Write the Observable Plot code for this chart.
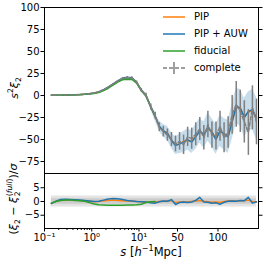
<!DOCTYPE html>
<html><head><meta charset="utf-8">
<script src="https://cdn.jsdelivr.net/npm/d3@7"></script>
<script src="https://cdn.jsdelivr.net/npm/@observablehq/plot@0.6"></script>
<style>
html,body{margin:0;padding:0;background:#fff;}
#chart{position:relative;width:266px;height:266px;font-family:"DejaVu Sans",sans-serif;color:#000;overflow:hidden;}
#chart svg{display:block;}
.lab{position:absolute;white-space:nowrap;font-size:11px;line-height:1;}
.rot{transform:translate(-50%,-50%) rotate(-90deg);}
.lab sup,.lab sub{font-size:70%;line-height:0;}
.stk{display:inline-flex;flex-direction:column;vertical-align:middle;font-size:70%;line-height:1;margin-left:0.5px;}
#legend{position:absolute;left:163px;top:8px;font-size:10px;line-height:1;}
#legend .row{display:flex;align-items:center;height:17px;}
#legend svg{display:inline-block;margin-right:9px;}
</style></head><body><div id="chart"></div>
<script>
// separation s [h^-1 Mpc]: log-binned part, then linear-binned part
const s = [0.14, 0.18, 0.22, 0.28, 0.35, 0.45, 0.56, 0.71, 0.89, 1.12, 1.41, 1.78, 2.24, 2.82, 3.55, 4.47, 5.62, 7.08, 8.91, 11.2, 14.1, 17.8,
  22.5, 27.5, 32.5, 37.5, 42.5, 47.5, 52.5, 57.5, 62.5, 67.5, 72.5, 77.5, 82.5, 87.5, 92.5, 97.5, 102.5, 107.5, 112.5, 117.5, 122.5, 127.5, 132.5, 137.5, 142.5, 147.5];

// top panel: s^2 xi_2
const pipAuw = [0.2, 0.3, 0.4, 0.5, 0.7, 0.9, 1.1, 1.5, 2.0, 2.8, 4.0, 6.5, 9.5, 13, 16.5, 19.5, 20.5, 20, 15, 6, 0, -13,
  -24, -35, -40, -43, -51, -57, -55, -53, -50, -53, -47, -40, -45, -36, -42, -50, -40, -44, -47, -30, -12, -14, -25, -18, -16, -26];
const pip = [0.2, 0.3, 0.4, 0.5, 0.7, 0.9, 1.1, 1.5, 2.0, 2.8, 4.0, 6.4, 9.3, 12.8, 16.3, 19.3, 20.3, 19.8, 15, 6, 0, -13,
  -24, -35, -41, -42, -51, -56, -55, -52, -51, -52, -46, -41, -44, -37, -41, -49, -41, -43, -46, -29, -13, -15, -24, -19, -17, -25];
const fiducial = [0.2, 0.3, 0.4, 0.5, 0.6, 0.8, 1.0, 1.3, 1.7, 2.3, 3.3, 5.5, 8.3, 11.8, 15.3, 17.8, 18.5, 18.3, 14, 5.5, -0.5, -13, -24];
const complete = [0.2, 0.3, 0.4, 0.5, 0.7, 0.9, 1.1, 1.5, 2.0, 2.8, 4.0, 6.5, 9.5, 13, 16.5, 19.5, 20.5, 20, 15, 6, 0, -13,
  -23, -36, -41, -45, -50, -55, -52, -56, -47, -49, -44, -38, -48, -33, -45, -46, -35, -48, -42, -22, -10, -18, -30, -42, -14, -30];
const sigmaAuw = [0.1, 0.1, 0.1, 0.1, 0.1, 0.1, 0.1, 0.2, 0.2, 0.2, 0.3, 0.3, 0.4, 0.5, 0.6, 0.8, 1, 1.2, 1.5, 2, 2.5, 3.5,
  5, 6, 7, 8, 9, 10, 11, 12, 12, 13, 14, 14, 15, 16, 16, 17, 18, 18, 19, 20, 20, 21, 22, 22, 23, 24];
const errComplete = [0.1, 0.1, 0.1, 0.1, 0.1, 0.1, 0.1, 0.2, 0.2, 0.2, 0.3, 0.3, 0.4, 0.5, 0.6, 0.8, 1, 1.2, 1.5, 2, 2.5, 3.5,
  4, 5, 6, 7, 8, 9, 10, 11, 11, 12, 13, 13, 14, 15, 15, 16, 17, 17, 18, 22, 26, 24, 24, 26, 25, 26];

// bottom panel: (xi_2 - xi_2^full)/sigma
const resPipAuw = [-0.8, 0.2, 0.7, 0.8, 0.7, 0.6, 0.5, 0.4, 0.2, 0.0, 0.1, 0.5, 0.9, 1.1, 1.0, 0.7, 0.4, 0.2, 0.0, -0.1, -0.2, -0.5,
  -0.6, -0.1, 0.2, 0.1, 0.7, -1.1, -0.4, -0.2, -0.4, -0.2, 0.4, 1.5, -0.2, -0.3, -0.6, -0.5, -1.0, -0.3, 0.1, 0.2, 0.1, 0.4, 0.3, 1.5, -0.6, -0.1];
const resPip = [-0.6, 0.1, 0.5, 0.6, 0.5, 0.5, 0.4, 0.3, 0.1, -0.1, 0.0, 0.3, 0.4, 0.5, 0.4, 0.3, 0.2, 0.1, 0.0, -0.1, -0.2, -0.3,
  -0.3, 0.0, 0.1, 0.2, 0.3, -0.4, -0.2, -0.1, -0.2, 0.0, 0.2, 0.4, 0.1, -0.1, -0.3, -0.2, -0.4, 0.0, 0.2, 0.3, 0.2, 0.3, 0.3, 0.5, 0.0, -0.3];
const resFiducial = [-0.6, 0.1, 0.4, 0.5, 0.5, 0.4, 0.3, 0.1, -0.4, -0.9, -1.2, -1.3, -1.4, -1.4, -1.4, -1.4, -1.3, -1.3, -1.2, -1.0, -0.4, -0.1, 0.0];
const bandOuter = 2, bandInner = 1;

// ticks
const xMajor = [0.1, 1, 10, 50, 100];
const xMajorLabels = ["10\u207B\u00B9", "10\u2070", "10\u00B9", "50", "100"];
const xMinor = [0.2, 0.3, 0.4, 0.5, 0.6, 0.7, 0.8, 0.9, 2, 3, 4, 5, 6, 7, 8, 9, 20];
const yTopTicks = [-75, -50, -25, 0, 25, 50, 75, 100];
const yBotTicks = [-5, 0, 5];

// hybrid axis: logarithmic up to 20, linear beyond
const BREAK = 20, K = 0.01714;
const u = v => v <= BREAK ? Math.log10(v) : Math.log10(BREAK) + (v - BREAK) * K;
const xDomain = [u(0.1), u(150)];
const fmt = d => d < 0 ? "\u2212" + (-d) : String(d);
const majorFmt = d => { const i = xMajor.findIndex(v => Math.abs(u(v) - d) < 1e-9); return i < 0 ? "" : xMajorLabels[i]; };

const rows = s.map((v, i) => ({s: v, pip: pip[i], auw: pipAuw[i], comp: complete[i], sig: sigmaAuw[i], err: errComplete[i],
  rpip: resPip[i], rauw: resPipAuw[i]}));
const fidRows = fiducial.map((v, i) => ({s: s[i], y: v, r: resFiducial[i]}));
const X = d => u(d.s);

const plotStyle = {fontFamily: "DejaVu Sans, sans-serif", fontSize: "10px", color: "#000", background: "transparent", overflow: "visible"};
const C = {orange: "#ff7f0e", blue: "#1f77b4", green: "#2ca02c", gray: "#7f7f7f"};

const topPlot = Plot.plot({
  width: 266, height: 173, marginLeft: 44, marginRight: 8, marginTop: 7, marginBottom: 0, style: plotStyle,
  x: {type: "linear", domain: xDomain, axis: null},
  y: {domain: [-88.6, 100]},
  marks: [
    Plot.areaY(rows, {x: X, y1: d => d.auw - d.sig, y2: d => d.auw + d.sig, fill: C.blue, fillOpacity: 0.25}),
    Plot.line(rows, {x: X, y: "pip", stroke: C.orange, strokeWidth: 1.5}),
    Plot.line(rows, {x: X, y: "auw", stroke: C.blue, strokeWidth: 1.5}),
    Plot.line(fidRows, {x: X, y: "y", stroke: C.green, strokeWidth: 1.5}),
    Plot.ruleX(rows, {x: X, y1: d => d.comp - d.err, y2: d => d.comp + d.err, stroke: C.gray, strokeWidth: 1.5}),
    Plot.line(rows, {x: X, y: "comp", stroke: C.gray, strokeWidth: 1.5, strokeDasharray: "4,2"}),
    Plot.axisY({ticks: yTopTicks, tickSize: 3.5, tickPadding: 1.5, tickFormat: fmt, label: null}),
    Plot.axisY({anchor: "right", ticks: yTopTicks, tickSize: 3.5, tickFormat: () => "", label: null}),
    Plot.frame({stroke: "#000", strokeWidth: 1})
  ]
});

const bottomPlot = Plot.plot({
  width: 266, height: 93, marginLeft: 44, marginRight: 8, marginTop: 0, marginBottom: 38, style: plotStyle,
  x: {type: "linear", domain: xDomain},
  y: {domain: [-9.82, 10.18]},
  marks: [
    Plot.areaY(rows, {x: X, y1: -bandOuter, y2: bandOuter, fill: "#808080", fillOpacity: 0.22}),
    Plot.areaY(rows, {x: X, y1: -bandInner, y2: bandInner, fill: "#808080", fillOpacity: 0.22}),
    Plot.line(rows, {x: X, y: "rpip", stroke: C.orange, strokeWidth: 1.5}),
    Plot.line(rows, {x: X, y: "rauw", stroke: C.blue, strokeWidth: 1.5}),
    Plot.line(fidRows, {x: X, y: "r", stroke: C.green, strokeWidth: 1.5}),
    Plot.axisY({ticks: yBotTicks, tickSize: 3.5, tickPadding: 1.5, tickFormat: fmt, label: null}),
    Plot.axisY({anchor: "right", ticks: yBotTicks, tickSize: 3.5, tickFormat: () => "", label: null}),
    Plot.axisX({ticks: xMajor.map(u), tickSize: 3.5, tickPadding: 2, tickFormat: majorFmt, label: null}),
    Plot.axisX({ticks: xMinor.map(u), tickSize: 2, tickFormat: () => "", label: null}),
    Plot.frame({stroke: "#000", strokeWidth: 1})
  ]
});

const chart = document.getElementById("chart");
chart.append(topPlot, bottomPlot);

function addLabel(html, left, topPx, cls) {
  const d = document.createElement("div");
  d.className = "lab " + (cls || "");
  d.innerHTML = html;
  d.style.left = left + "px";
  d.style.top = topPx + "px";
  chart.append(d);
  return d;
}
addLabel('<i>s</i><sup>2</sup><i>\u03BE</i><sub>2</sub>', 14, 88, "rot");
addLabel('(<i>\u03BE</i><sub>2</sub> \u2212 <i>\u03BE</i><span class="stk"><span>(<i>full</i>)</span><span>2</span></span>)/<i>\u03C3</i>', 14, 199, "rot");
const xl = addLabel('<i>s</i> [<i>h</i><sup>\u22121</sup>Mpc]', 151, 253, "");
xl.style.transform = "translate(-50%,-50%)";
xl.style.fontSize = "11.5px";

// legend
const legendItems = [
  {name: "PIP", color: C.orange, kind: "line"},
  {name: "PIP + AUW", color: C.blue, kind: "line"},
  {name: "fiducial", color: C.green, kind: "line"},
  {name: "complete", color: C.gray, kind: "err"}
];
const lg = document.createElement("div");
lg.id = "legend";
for (const it of legendItems) {
  const r = document.createElement("div");
  r.className = "row";
  const sw = it.kind === "line"
    ? `<svg width="22" height="12"><line x1="0" x2="22" y1="6" y2="6" stroke="${it.color}" stroke-width="1.5"/></svg>`
    : `<svg width="22" height="12"><line x1="0" x2="22" y1="6" y2="6" stroke="${it.color}" stroke-width="1.5" stroke-dasharray="4,2"/><line x1="11" x2="11" y1="0" y2="12" stroke="${it.color}" stroke-width="1.5"/></svg>`;
  r.innerHTML = sw + `<span>${it.name}</span>`;
  lg.append(r);
}
chart.append(lg);
</script></body></html>
